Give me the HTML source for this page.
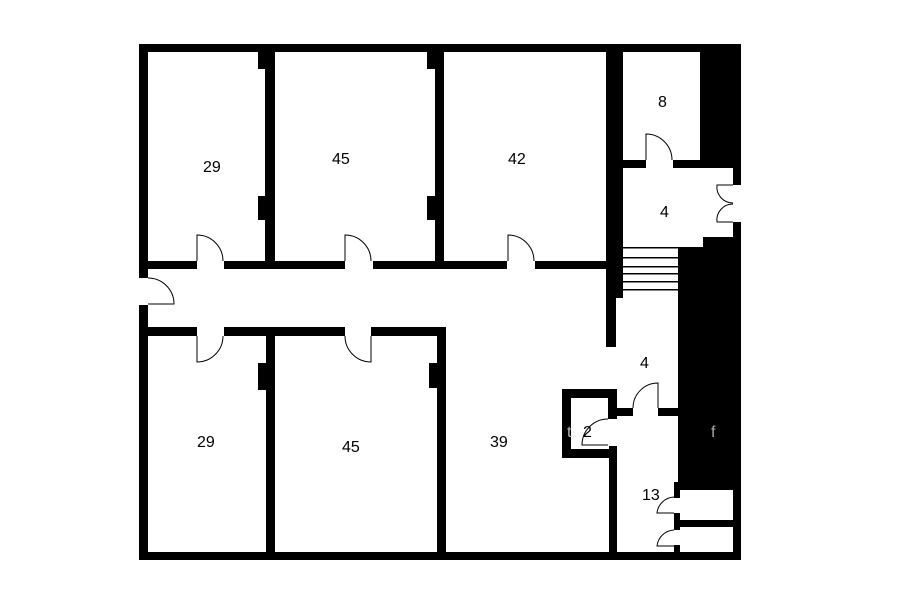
<!DOCTYPE html>
<html><head><style>html,body{margin:0;padding:0;background:#fff}svg{display:block}text{font-family:"Liberation Sans",sans-serif;font-size:16px;fill:#000}</style></head>
<body>
<svg width="900" height="604" viewBox="0 0 900 604" xmlns="http://www.w3.org/2000/svg">
<rect width="900" height="604" fill="#fff"/>
<g fill="#000">
<rect x="139" y="44" width="602" height="8"/>
<rect x="139" y="44" width="9" height="234"/>
<rect x="139" y="305" width="9" height="255"/>
<rect x="139" y="552" width="602" height="8"/>
<rect x="733" y="44" width="8" height="141"/>
<rect x="733" y="222" width="8" height="338"/>
<rect x="265" y="44" width="10" height="225"/>
<rect x="258" y="52" width="8" height="17"/>
<rect x="258" y="196" width="8" height="24"/>
<rect x="435" y="44" width="9" height="225"/>
<rect x="427" y="52" width="8" height="17"/>
<rect x="427" y="196" width="8" height="24"/>
<rect x="606" y="44" width="17" height="254"/>
<rect x="606" y="44" width="10" height="303"/>
<rect x="148" y="261" width="49" height="8"/>
<rect x="224" y="261" width="121" height="8"/>
<rect x="373" y="261" width="134" height="8"/>
<rect x="535" y="261" width="71" height="8"/>
<rect x="148" y="327" width="49" height="9"/>
<rect x="224" y="327" width="121" height="9"/>
<rect x="371" y="327" width="75" height="9"/>
<rect x="266" y="336" width="9" height="216"/>
<rect x="258" y="363" width="8" height="27"/>
<rect x="437" y="327" width="9" height="225"/>
<rect x="429" y="363" width="8" height="25"/>
<rect x="700" y="44" width="41" height="124"/>
<rect x="623" y="160" width="23" height="8"/>
<rect x="673" y="160" width="68" height="8"/>
<rect x="703" y="237" width="38" height="10"/>
<rect x="678" y="247" width="63" height="238"/>
<rect x="623" y="247" width="55" height="1.5"/>
<rect x="623" y="257" width="55" height="1.5"/>
<rect x="623" y="266" width="55" height="1.5"/>
<rect x="623" y="273" width="55" height="1.5"/>
<rect x="623" y="281" width="55" height="1.5"/>
<rect x="623" y="289" width="55" height="1.5"/>
<rect x="616" y="408" width="17" height="8"/>
<rect x="658" y="408" width="20" height="8"/>
<rect x="562" y="389" width="55" height="9"/>
<rect x="562" y="389" width="9" height="69"/>
<rect x="562" y="449" width="55" height="9"/>
<rect x="608" y="389" width="9" height="30"/>
<rect x="609" y="446" width="8" height="106"/>
<rect x="674" y="485" width="67" height="5"/>
<rect x="674" y="482" width="6" height="16"/>
<rect x="674" y="513" width="6" height="17"/>
<rect x="674" y="520" width="67" height="7"/>
<rect x="674" y="545" width="6" height="8"/>
</g>
<g fill="none" stroke="#000" stroke-width="1">
<path d="M148 278 A26 26 0 0 1 174 304 L148 304"/>
<path d="M197 261 L197 235 A26 26 0 0 1 223 261"/>
<path d="M345 261 L345 235 A26 26 0 0 1 371 261"/>
<path d="M508 261 L508 235 A26 26 0 0 1 534 261"/>
<path d="M197 336 L197 362 A26 26 0 0 0 223 336"/>
<path d="M345 336 A26 26 0 0 0 371 362 L371 336"/>
<path d="M646 160 L646 134 A26 26 0 0 1 672 160"/>
<path d="M733 185 L717 185 A16 16 0 0 0 733 203"/>
<path d="M733 222 L717 222 A16 16 0 0 1 733 204"/>
<path d="M633 408 A25 25 0 0 1 658 383 L658 408"/>
<path d="M608 419 A26 26 0 0 0 582 445 L608 445"/>
<path d="M674 497 A18 18 0 0 0 657 513 L674 513"/>
<path d="M674 530 A18 18 0 0 0 657 546 L674 546"/>
</g>
<text x="203" y="172">29</text>
<text x="332" y="164">45</text>
<text x="508" y="164">42</text>
<text x="658" y="107">8</text>
<text x="660" y="217">4</text>
<text x="640" y="368">4</text>
<text x="197" y="447">29</text>
<text x="342" y="452">45</text>
<text x="490" y="447">39</text>
<text x="567" y="437" style="fill:#bbb">t</text>
<text x="583" y="437">2</text>
<text x="642" y="500">13</text>
<text x="711" y="437" style="fill:#aaa">f</text>
</svg>
</body></html>
